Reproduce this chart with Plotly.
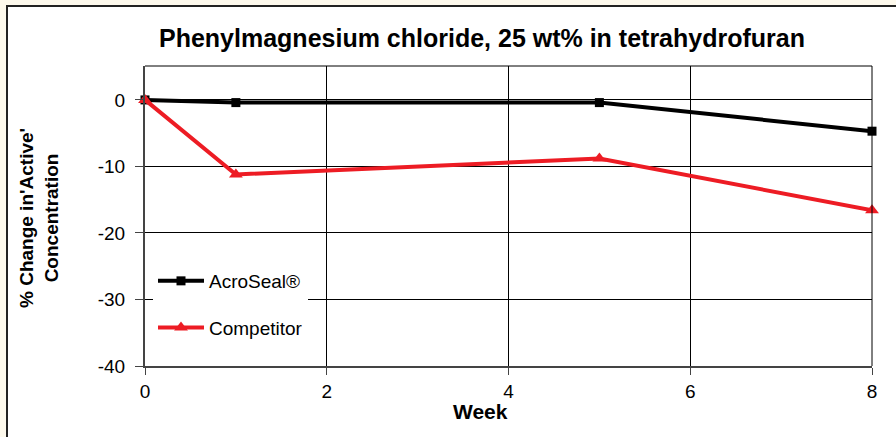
import plotly.graph_objects as go

weeks = [0, 1, 5, 8]
acroseal = [0, -0.4, -0.4, -4.7]
competitor = [0, -11.2, -8.8, -16.6]
series_names = ["AcroSeal®", "Competitor"]
title_text = "Phenylmagnesium chloride, 25 wt% in tetrahydrofuran"
x_tick_vals = [0, 2, 4, 6, 8]
x_tick_text = ["0", "2", "4", "6", "8"]
y_tick_vals = [0, -10, -20, -30, -40]
y_tick_text = ["0", "-10", "-20", "-30", "-40"]

W, H = 896, 437
L, R, T, B = 145, 872, 66, 366

fig = go.Figure()
fig.add_trace(go.Scatter(
    x=weeks, y=acroseal, name=series_names[0], mode="lines+markers",
    line=dict(color="#000000", width=4),
    marker=dict(symbol="square", size=9, color="#000000"),
    legendgroup="a", cliponaxis=False))
fig.add_trace(go.Scatter(
    x=weeks, y=competitor, name=series_names[1], mode="lines+markers",
    line=dict(color="#ED1C24", width=4),
    marker=dict(symbol="triangle-up", size=12, color="#ED1C24"),
    legendgroup="b", cliponaxis=False))

def px2x(px):
    return (px - L) / (R - L)

def px2y(py):
    return (B - py) / (B - T)

font_family = "Liberation Sans, Arial, sans-serif"

fig.update_layout(
    width=W, height=H,
    margin=dict(l=L, r=W - R, t=T, b=H - B),
    paper_bgcolor="#FDF9EC",
    plot_bgcolor="rgba(0,0,0,0)",
    font=dict(family=font_family, size=19, color="#000000"),
    title=dict(text="<b>" + title_text + "</b>", x=482 / W, xanchor="center",
               y=1 - 38 / H, yanchor="middle", xref="container",
               yref="container",
               font=dict(size=25, family=font_family, color="#000000")),
    showlegend=True,
    legend=dict(x=px2x(153), y=px2y(262), xanchor="left", yanchor="top",
                bgcolor="#FFFFFF", borderwidth=0, traceorder="grouped",
                tracegroupgap=19, font=dict(size=19, family=font_family),
                itemwidth=46),
    xaxis=dict(range=[0, 8], tickvals=x_tick_vals, ticktext=x_tick_text,
               showgrid=True,
               gridcolor="#000000", gridwidth=1, zeroline=False,
               showline=True, linecolor="#444444", linewidth=2,
               ticks="outside", ticklen=7, tickcolor="#444444",
               tickfont=dict(size=19)),
    yaxis=dict(range=[-40, 5.1], tickvals=y_tick_vals, ticktext=y_tick_text,
               showgrid=True,
               gridcolor="#000000", gridwidth=1, zeroline=False,
               showline=True, linecolor="#444444", linewidth=2,
               ticks="outside", ticklen=8, tickcolor="#444444",
               ticklabelstandoff=6, tickfont=dict(size=19)),
    shapes=[
        dict(type="rect", xref="paper", yref="paper", layer="below",
             x0=px2x(7), x1=px2x(960), y0=px2y(500), y1=px2y(6),
             fillcolor="#FFFFFF", line=dict(color="#222222", width=2)),
        dict(type="line", xref="paper", yref="paper",
             x0=0, x1=1, y0=1, y1=1, line=dict(color="#000000", width=1)),
        dict(type="line", xref="paper", yref="paper",
             x0=1, x1=1, y0=0, y1=1, line=dict(color="#000000", width=1)),
    ],
    annotations=[
        dict(text="<b>Week</b>", xref="paper", yref="paper",
             x=px2x(480), y=px2y(411), xanchor="center", yanchor="middle",
             showarrow=False, font=dict(size=21, family=font_family)),
        dict(text="<b>% Change in'Active'<br>Concentration</b>",
             xref="paper", yref="paper", textangle=-90,
             x=px2x(39), y=px2y(218), xanchor="center", yanchor="middle",
             showarrow=False, font=dict(size=19, family=font_family)),
    ],
)

fig.write_html(
    "out.html",
    config={"displayModeBar": False},
    post_script="document.body.style.margin='0';"
                "document.body.style.background='#FDF9EC';"
                "document.body.style.overflow='hidden';")
